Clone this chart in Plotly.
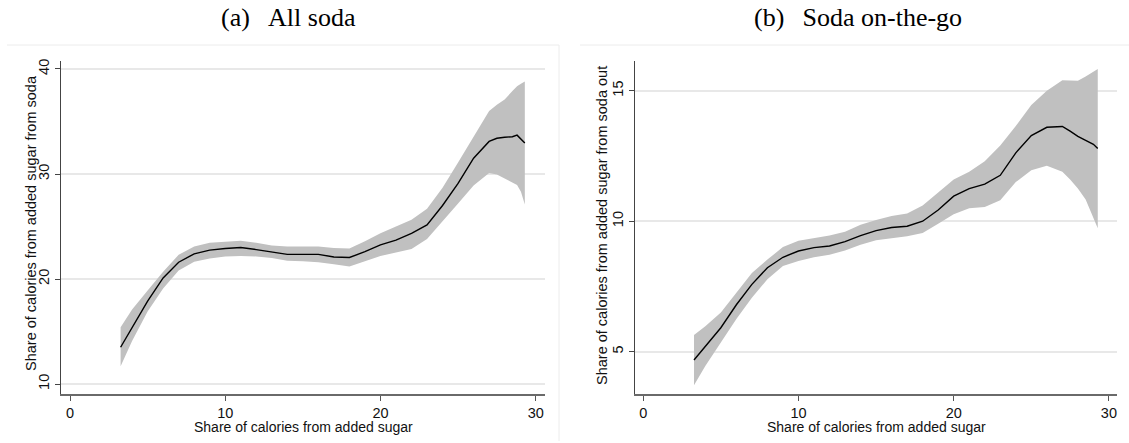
import plotly.graph_objects as go

# ---- Panel (a): All soda ----
x_a = [3.26, 4, 5, 6, 7, 8, 9, 10, 11, 12, 13, 14, 15, 16, 17, 18, 19, 20, 21, 22,
       23, 24, 25, 26, 27, 27.5, 28, 28.5, 28.8, 29.05, 29.3]
fit_a = [13.5, 15.4, 17.9, 20.1, 21.6, 22.4, 22.75, 22.9, 23.0, 22.8, 22.6, 22.35, 22.35,
         22.35, 22.1, 22.05, 22.6, 23.25, 23.7, 24.35, 25.15, 27.0, 29.1, 31.5, 33.1,
         33.4, 33.5, 33.55, 33.7, 33.35, 32.95]
hi_a = [15.4, 17.1, 18.9, 20.7, 22.3, 23.1, 23.45, 23.55, 23.65, 23.45, 23.2, 23.1, 23.1,
        23.1, 22.95, 22.9, 23.6, 24.35, 25.0, 25.65, 26.7, 28.7, 31.1, 33.6, 36.0, 36.6,
        37.1, 37.9, 38.35, 38.6, 38.8]
lo_a = [11.7, 14.1, 16.9, 19.1, 20.8, 21.65, 21.95, 22.15, 22.2, 22.15, 22.0, 21.75, 21.7,
        21.6, 21.4, 21.2, 21.7, 22.2, 22.5, 22.85, 23.8, 25.45, 27.2, 28.9, 30.1, 29.95,
        29.6, 29.2, 28.95, 28.3, 27.1]

# ---- Panel (b): Soda on-the-go ----
x_b = [3.27, 4, 5, 6, 7, 8, 9, 10, 11, 12, 13, 14, 15, 16, 17, 18, 19, 20, 21, 22,
       23, 24, 25, 26, 27, 27.5, 28, 28.5, 29, 29.28]
fit_b = [4.68, 5.2, 5.92, 6.8, 7.58, 8.22, 8.62, 8.86, 8.99, 9.05, 9.22, 9.45, 9.64, 9.76,
         9.81, 10.0, 10.43, 10.96, 11.25, 11.42, 11.76, 12.62, 13.28, 13.6, 13.63, 13.45,
         13.25, 13.1, 12.95, 12.79]
hi_b = [5.64, 5.98, 6.5, 7.25, 8.02, 8.53, 9.01, 9.25, 9.35, 9.45, 9.6, 9.87, 10.05, 10.2,
        10.3, 10.6, 11.1, 11.6, 11.9, 12.3, 12.9, 13.65, 14.45, 15.0, 15.4, 15.4, 15.38,
        15.55, 15.72, 15.83]
lo_b = [3.72, 4.45, 5.33, 6.25, 7.07, 7.78, 8.28, 8.48, 8.62, 8.72, 8.88, 9.1, 9.27, 9.35,
        9.42, 9.55, 9.9, 10.27, 10.5, 10.55, 10.8, 11.5, 11.95, 12.13, 11.9, 11.6, 11.25,
        10.83, 10.15, 9.73]

titles = ["(a)\u2002\u2009All soda", "(b)\u2002\u2009Soda on-the-go"]
x_title = "Share of calories from added sugar"
y_titles = ["Share of calories from added sugar from soda",
            "Share of calories from added sugar from soda out"]
x_ticks = [0, 10, 20, 30]
y_ticks_a = [10, 20, 30, 40]
y_ticks_b = [5, 10, 15]

W, H = 1129, 443
BAND = "#c0c0c0"
SANS = "Arial, 'Liberation Sans', sans-serif"
SERIF = "'Liberation Serif', 'Times New Roman', serif"
TXT = "#111111"

fig = go.Figure()
for (xs, fit, hi, lo, xa, ya) in [(x_a, fit_a, hi_a, lo_a, "x", "y"),
                                  (x_b, fit_b, hi_b, lo_b, "x2", "y2")]:
    fig.add_trace(go.Scatter(x=xs + xs[::-1], y=hi + lo[::-1], fill="toself",
                             fillcolor=BAND, line=dict(width=0), mode="lines",
                             hoverinfo="skip", showlegend=False, xaxis=xa, yaxis=ya))
    fig.add_trace(go.Scatter(x=xs, y=fit, mode="lines",
                             line=dict(color="black", width=1.4),
                             showlegend=False, xaxis=xa, yaxis=ya))

def px_x(p):
    return p / W

def px_y(p):
    return 1 - p / H

ydom = [px_y(394), px_y(61)]
xcommon = dict(tickvals=x_ticks, ticks="outside", ticklen=5, tickcolor="#555555",
               showline=True, linecolor="#6a6a6a", linewidth=1.5, showgrid=False,
               zeroline=False, automargin=False,
               tickfont=dict(family=SANS, size=14.5, color=TXT))
ycommon = dict(ticks="outside", ticklen=5, tickcolor="#444444", tickangle=-90,
               showline=True, linecolor="#444444", linewidth=1.2, showgrid=True,
               gridcolor="#e8e8e8", gridwidth=1.6, zeroline=False, automargin=False,
               tickfont=dict(family=SANS, size=14.5, color=TXT))

fig.update_layout(
    width=W, height=H, margin=dict(l=0, r=0, t=0, b=0, autoexpand=False),
    paper_bgcolor="white", plot_bgcolor="white",
    xaxis=dict(domain=[px_x(61), px_x(545)], range=[-0.58, 30.6], anchor="y", **xcommon),
    yaxis=dict(domain=ydom, range=[9.05, 40.76], anchor="x", tickvals=y_ticks_a, **ycommon),
    xaxis2=dict(domain=[px_x(635), px_x(1117)], range=[-0.53, 30.52], anchor="y2", **xcommon),
    yaxis2=dict(domain=ydom, range=[3.38, 16.14], anchor="x2", tickvals=y_ticks_b, **ycommon),
    showlegend=False,
)

# panel titles
for txt, cx in zip(titles, [288, 858]):
    fig.add_annotation(text=txt, x=px_x(cx), y=px_y(18), xref="paper", yref="paper",
                       xanchor="center", yanchor="middle", showarrow=False,
                       font=dict(family=SERIF, size=26, color="black"))

# axis titles
for cx in [(61 + 545) / 2, (635 + 1117) / 2]:
    fig.add_annotation(text=x_title, x=px_x(cx), y=px_y(426.5), xref="paper", yref="paper",
                       xanchor="center", yanchor="middle", showarrow=False,
                       font=dict(family=SANS, size=14, color=TXT))
for txt, cx, cy in zip(y_titles, [31, 602], [223, 226]):
    fig.add_annotation(text=txt, x=px_x(cx), y=px_y(cy), xref="paper", yref="paper",
                       xanchor="center", yanchor="middle", showarrow=False, textangle=-90,
                       font=dict(family=SANS, size=14.5, color=TXT))

# faint graph-region frames
frame = dict(color="#ececec", width=1)
fig.add_shape(type="line", xref="paper", yref="paper", x0=px_x(7), x1=px_x(559),
              y0=px_y(45), y1=px_y(45), line=frame)
fig.add_shape(type="line", xref="paper", yref="paper", x0=px_x(559), x1=px_x(559),
              y0=px_y(45), y1=px_y(441), line=frame)
fig.add_shape(type="line", xref="paper", yref="paper", x0=px_x(580), x1=px_x(1129),
              y0=px_y(45), y1=px_y(45), line=frame)

fig.write_html(
    "out.html",
    config={"displayModeBar": False},
    post_script="document.body.style.margin='0';document.body.style.padding='0';"
                "document.documentElement.style.overflow='hidden';",
)
